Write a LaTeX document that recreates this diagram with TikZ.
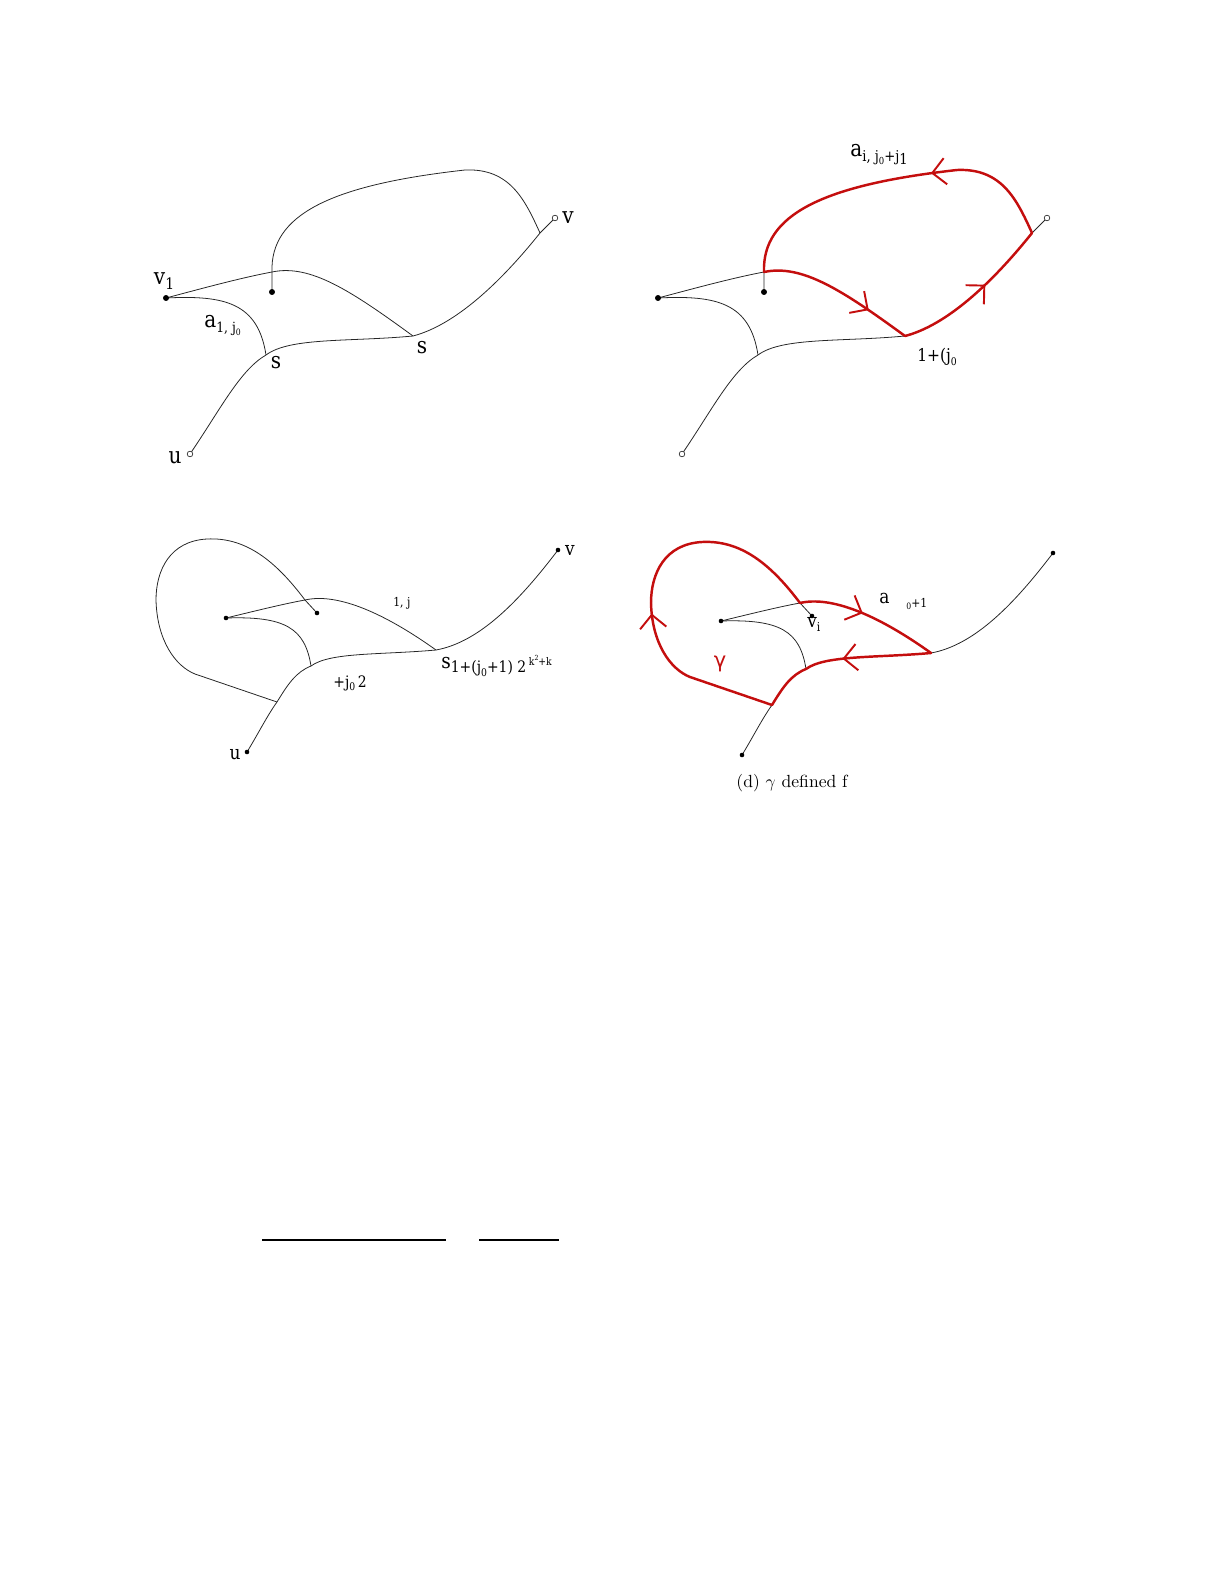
\documentclass[tikz,border=0pt]{standalone}
\usepackage{fontspec}
\usepackage{tikz}
\usetikzlibrary{arrows.meta,decorations.markings,positioning}
\newfontfamily\lblfont{DejaVu Serif}[FakeStretch=0.88]
\newfontfamily\grkfont{DejaVu Sans}
\definecolor{loopred}{RGB}{196,14,14}
\tikzstyle{curve} = [draw=black!85, line width=0.45pt]
\tikzstyle{redcurve} = [draw=loopred, line width=1.4pt, line cap=round, line join=round]
\newcommand{\fs}[1]{\fontsize{#1}{#1}\selectfont}
\newcommand{\lsub}[1]{\raisebox{-0.45ex}{#1}}
\newcommand{\lsup}[1]{\raisebox{0.9ex}{#1}}

% graph of the top row, drawn in (a) and again under (b)
\newcommand{\topgraph}{%
  \coordinate (v1) at (166,298);
  \coordinate (w) at (272,292);
  \coordinate (p) at (272,272);
  \coordinate (s1) at (266,355);
  \coordinate (s2) at (413,336);
  \coordinate (t) at (465,170);
  \coordinate (q) at (540,233);
  \coordinate (v) at (555,218);
  \coordinate (u) at (190,454);
  \draw[curve] (v1) .. controls (200,289) and (240,278) .. (p)
               .. controls (310,264) and (350,290) .. (s2);
  \draw[curve] (v1) .. controls (225,295) and (258,303) .. (s1);
  \draw[curve] (u) .. controls (220,410) and (240,370) .. (s1)
               .. controls (290,337) and (350,342) .. (s2)
               .. controls (455,325) and (500,283) .. (q) -- (v);
  \draw[curve] (w) -- (p) .. controls (270,215) and (330,185) .. (t)
               .. controls (510,168) and (525,200) .. (q);
  \node[dot] (v1dot) at (v1) {};
  \node[dot] (wdot) at (w) {};
  \node[opendot] (vdot) at (v) {};
  \node[opendot] (udot) at (u) {};
}

% graph of the bottom row, drawn in (c) and again under (d)
\newcommand{\bottomgraph}{%
  \coordinate (lv) at (226,618);
  \coordinate (vi) at (317,613);
  \coordinate (cr) at (305,600);
  \coordinate (s1) at (311,666);
  \coordinate (s2) at (436,650);
  \coordinate (lj) at (277,702);
  \coordinate (v) at (558,550);
  \coordinate (u) at (247,752);
  \draw[curve] (lv) .. controls (255,611) and (283,604) .. (cr)
               .. controls (335,593) and (380,610) .. (s2);
  \draw[curve] (lv) .. controls (285,616) and (305,628) .. (s1);
  \draw[curve] (u) .. controls (258,734) and (267,716) .. (lj)
               .. controls (288,684) and (296,672) .. (s1)
               .. controls (330,652) and (380,655) .. (s2)
               .. controls (480,642) and (520,600) .. (v);
  \draw[curve] (vi) -- (cr) .. controls (275,560) and (245,537) .. (207,539)
               .. controls (170,541) and (156,570) .. (156,600)
               .. controls (157,640) and (175,666) .. (195,674) -- (lj);
  \node[smalldot] (lvdot) at (lv) {};
  \node[smalldot] (vidot) at (vi) {};
  \node[smalldot] (vdot) at (v) {};
  \node[smalldot] (udot) at (u) {};
}

\begin{document}
\begin{tikzpicture}[
    x=0.02cm, y=-0.02cm,
    dot/.style={circle, fill=black, inner sep=0pt, minimum size=3.4pt},
    smalldot/.style={circle, fill=black, inner sep=0pt, minimum size=2.6pt},
    opendot/.style={circle, draw=black!80, fill=white, line width=0.4pt, inner sep=0pt, minimum size=3.2pt},
    lbl/.style={font=\lblfont\fs{13}, inner sep=0pt},
    flow/.style={postaction={decorate}, decoration={markings,
        mark=at position #1 with {\arrow[loopred, line width=1.1pt]{Straight Barb[length=7.5pt,width=15pt]}}}}
]
\useasboundingbox (0,0) rectangle (1225,1585);

% (a)
\topgraph
\node[lbl] (v1lbl) at (164,281) {v\lsub{\fs{9}1}};
\node[lbl, anchor=base west] (alabel) at (204,327) {a\lsub{\fs{8}1, j\lsub{\fs{5}0}}};
\node[lbl] (s1lbl) at (276,363) {s};
\node[lbl] (s2lbl) at (422,348) {s};
\node[lbl] (vlbl) at (568,218) {v};
\node[lbl] (ulbl) at (175,458) {u};

% (b)
\begin{scope}[shift={(492,0)}]
\topgraph
\draw[redcurve, flow=0.72] (p) .. controls (310,264) and (350,290) .. (s2);
\draw[redcurve, flow=0.58] (s2) .. controls (455,325) and (500,283) .. (q);
\draw[redcurve] (q) .. controls (525,200) and (510,168) .. (t);
\draw[redcurve, flow=0.11] (t) .. controls (330,185) and (270,215) .. (p);
\end{scope}
\node[lbl, anchor=base west] (ablbl) at (850,156) {a\lsub{\fs{8.5}i, j\lsub{\fs{5.5}0}+j\lsub{\fs{8.5}1}}};
\node[lbl, anchor=base west] (bsublbl) at (917,361) {\fs{10}1+(j\lsub{\fs{6}0}};

% (c)
\bottomgraph
\node[lbl, anchor=base west] (cjlbl) at (393,606) {\fs{7}1, j};
\node[lbl, anchor=base west] (cslbl) at (441,668) {\fs{12}s\lsub{\fs{9}1+(j\lsub{\fs{6}0}+1) 2\,\lsup{\fs{6}k\lsup{\fs{4}2}+k}}};
\node[lbl, anchor=base west] (cplbl) at (333,687) {\fs{9}+j\lsub{\fs{6}0}\,2};
\node[lbl] (cvlbl) at (570,550) {\fs{11}v};
\node[lbl] (culbl) at (235,755) {\fs{11}u};

% (d)
\begin{scope}[shift={(495,3)}]
\bottomgraph
\draw[redcurve, flow=0.45] (cr) .. controls (335,593) and (380,610) .. (s2);
\draw[redcurve, flow=0.5] (s2) .. controls (380,655) and (330,652) .. (s1)
               .. controls (296,672) and (288,684) .. (lj);
\draw[redcurve, flow=0.94] (lj) -- (195,674) .. controls (175,666) and (157,640) .. (156,600);
\draw[redcurve] (156,600) .. controls (156,570) and (170,541) .. (207,539)
               .. controls (245,537) and (275,560) .. (cr);
\end{scope}
\node[lbl, anchor=base west] (dalbl) at (879,603) {\fs{11}a};
\node[lbl, anchor=base west] (dsublbl) at (906,607) {\fs{7}\lsub{\fs{5}0}+1};
\node[lbl, anchor=base west] (dvilbl) at (807,627) {\fs{11}v\lsub{\fs{7}i}};
\node[font=\grkfont\fs{12}, text=loopred, inner sep=0pt] (gamma) at (720,664) {γ};
\node[inner sep=0pt] (caption) at (792,783) {(d) $\gamma$ defined f};

% rules at the foot
\coordinate (ra) at (262,1240);
\coordinate (rb) at (446,1240);
\coordinate (rc) at (479,1240);
\coordinate (rd) at (559,1240);
\draw[line width=1.4pt] (ra) -- (rb);
\draw[line width=1.4pt] (rc) -- (rd);
\end{tikzpicture}
\end{document}
